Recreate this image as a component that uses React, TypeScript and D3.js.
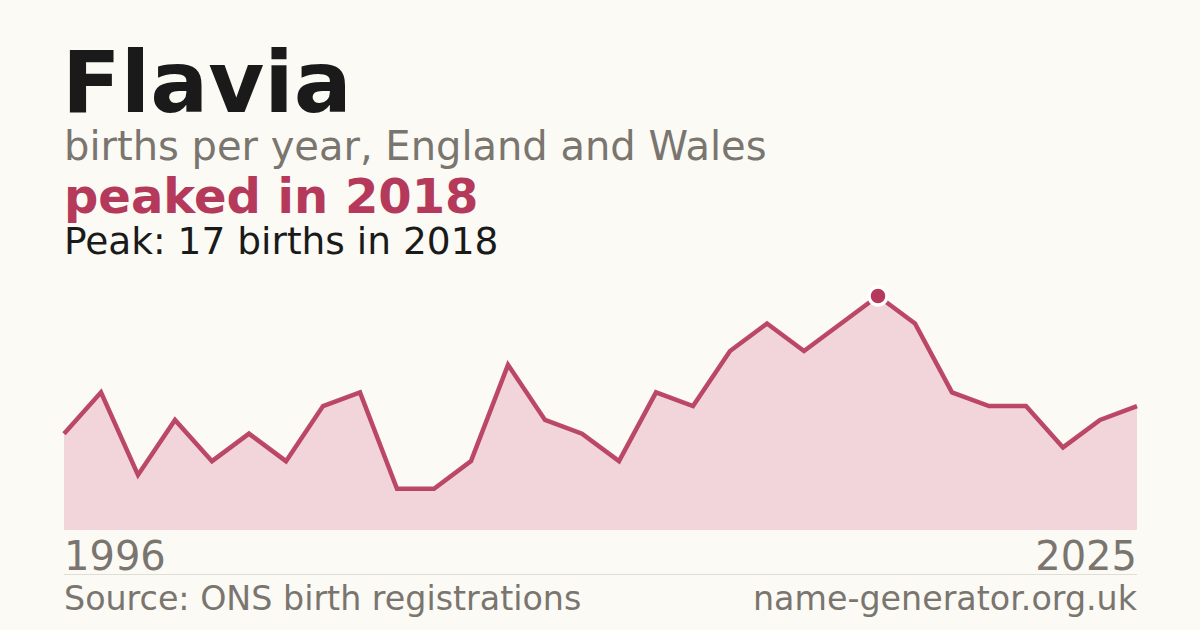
import { useRef, useEffect } from "react";
import * as d3 from "d3";

const years = d3.range(1996, 2026);
const births = [7, 10, 4, 8, 5, 7, 5, 9, 10, 3, 3, 5, 12, 8, 7, 5, 10, 9, 13, 15, 13, 15, 17, 15, 10, 9, 9, 6, 8, 9];

const NAME = "Flavia";
const SUBTITLE = "births per year, England and Wales";
const HEADLINE = "peaked in 2018";
const PEAK_NOTE = "Peak: 17 births in 2018";
const SOURCE = "Source: ONS birth registrations";
const SITE = "name-generator.org.uk";

const W = 1200;
const H = 630;
const FONT = "'DejaVu Sans', sans-serif";
const ACCENT = "#b5395a";
const GREY = "#7a756e";
const INK = "#1a1a1a";

export default function App() {
  const svgRef = useRef<SVGSVGElement>(null);

  useEffect(() => {
    if (!svgRef.current) return;
    const svg = d3.select(svgRef.current);
    svg.selectAll("*").remove();

    svg.append("rect").attr("width", W).attr("height", H).attr("fill", "#fbfaf5");

    const left = 64;
    const right = 1137;
    const x = d3.scaleLinear().domain([years[0], years[years.length - 1]]).range([left, right]);
    const y = d3.scaleLinear().domain([0, d3.max(births) ?? 1]).range([530, 296]);

    const pts = years.map((yr, i) => ({ yr, v: births[i] }));

    const area = d3.area<{ yr: number; v: number }>()
      .x((d) => x(d.yr))
      .y0(y(0))
      .y1((d) => y(d.v));
    const line = d3.line<{ yr: number; v: number }>()
      .x((d) => x(d.yr))
      .y((d) => y(d.v));

    svg.append("path").datum(pts).attr("d", area).attr("fill", "#f2d5db");
    svg.append("path").datum(pts).attr("d", line)
      .attr("fill", "none")
      .attr("stroke", ACCENT)
      .attr("stroke-width", 4.5)
      .attr("stroke-opacity", 0.92)
      .attr("stroke-linejoin", "miter");

    // peak marker
    const peakIdx = d3.maxIndex(births);
    svg.append("circle")
      .attr("cx", x(years[peakIdx]))
      .attr("cy", y(births[peakIdx]))
      .attr("r", 9)
      .attr("fill", ACCENT)
      .attr("stroke", "#ffffff")
      .attr("stroke-width", 3.5);

    const text = (tx: number, ty: number, s: string, size: number, fill: string, weight = "normal", anchor = "start") =>
      svg.append("text")
        .attr("x", tx).attr("y", ty)
        .attr("font-family", FONT)
        .attr("font-size", size)
        .attr("font-weight", weight)
        .attr("fill", fill)
        .attr("text-anchor", anchor)
        .text(s);

    text(62, 112, NAME, 86, INK, "bold");
    text(64, 160, SUBTITLE, 40, GREY);
    text(64, 213, HEADLINE, 48, ACCENT, "bold");
    text(64, 254, PEAK_NOTE, 37.5, INK);

    text(left, 570, String(years[0]), 40, GREY);
    text(right, 570, String(years[years.length - 1]), 40, GREY, "normal", "end");

    svg.append("line")
      .attr("x1", left).attr("x2", right)
      .attr("y1", 574.5).attr("y2", 574.5)
      .attr("stroke", "#e0ddd5").attr("stroke-width", 1);

    text(64, 610, SOURCE, 33.3, GREY);
    text(right, 610, SITE, 33.3, GREY, "normal", "end");
  }, []);

  return (
    <svg
      ref={svgRef}
      width={W}
      height={H}
      style={{ position: "absolute", left: 0, top: 0, display: "block" }}
    />
  );
}
